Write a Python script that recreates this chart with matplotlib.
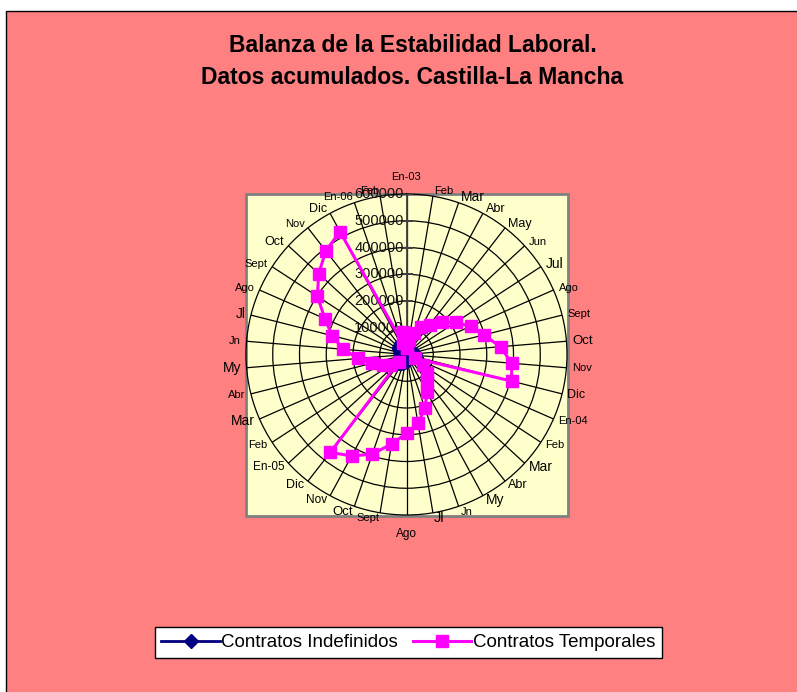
import numpy as np
import matplotlib
matplotlib.use("Agg")
import matplotlib.pyplot as plt
from matplotlib.patches import Rectangle
from matplotlib.lines import Line2D

plt.rcParams['font.family'] = ['Liberation Sans', 'DejaVu Sans']

# categorias (meses) y valores acumulados
meses = ['En-03', 'Feb', 'Mar', 'Abr', 'May', 'Jun', 'Jul', 'Ago', 'Sept', 'Oct', 'Nov', 'Dic',
         'En-04', 'Feb', 'Mar', 'Abr', 'My', 'Jn', 'Jl', 'Ago', 'Sept', 'Oct', 'Nov', 'Dic',
         'En-05', 'Feb', 'Mar', 'Abr', 'My', 'Jn', 'Jl', 'Ago', 'Sept', 'Oct', 'Nov', 'Dic',
         'En-06', 'Feb']
tam_etiq = [8, 8, 10, 9, 9, 8, 10, 8, 8, 9.5, 8, 9,
            8, 8, 10, 9, 10, 8, 10.5, 8.5, 8, 9.5, 8.5, 9,
            8.5, 8, 10, 8, 10, 8, 10, 8, 8, 9, 8, 9,
            8, 8]

indefinidos = [3500, 7000, 10500, 14000, 17500, 21000, 24500, 27000, 30500, 34000, 37000, 39500,
               3800, 7500, 11500, 15000, 19000, 23000, 26500, 29500, 33500, 37500, 41000, 43500,
               4200, 8300, 12500, 16500, 20500, 25000, 29000, 32000, 36500, 41000, 45000, 48000,
               4500, 9000]
temporales = [25000, 55000, 85000, 115000, 140000, 180000, 219000, 262000, 297000, 353000, 394000, 406000,
              35000, 75000, 104000, 125000, 160000, 213000, 260000, 295000, 339000, 394000, 431000, 464000,
              40000, 75000, 97000, 134000, 181000, 237000, 287000, 333000, 398000, 446000, 491000, 522000,
              45000, 85000]
radiales = [0, 100000, 200000, 300000, 400000, 500000, 600000]

W, H = 797, 692
fig = plt.figure(figsize=(W / 100, H / 100), dpi=100)
fig.patch.set_facecolor('white')

# fondo salmon con borde
fig.add_artist(Rectangle((6 / W, -0.01), 1.0, (H - 10.5) / H + 0.01, transform=fig.transFigure,
                         facecolor='#FF8080', edgecolor='black', lw=1, zorder=-10))
# area de trazado amarilla
fig.add_artist(Rectangle((246 / W, 1 - 516 / H), 322 / W, 322 / H, transform=fig.transFigure,
                         facecolor='#FFFFCC', edgecolor='#808080', lw=2, zorder=-9))

fig.text(412.5 / W, 1 - 46 / H, 'Balanza de la Estabilidad Laboral.', ha='center', va='center',
         fontsize=16.5, fontweight='bold')
fig.text(412.5 / W, 1 - 77 / H, 'Datos acumulados. Castilla-La Mancha', ha='center', va='center',
         fontsize=16.5, fontweight='bold')

cx, cy, R = 406.5, 354.5, 160.5
ax = fig.add_axes([(cx - R) / W, 1 - (cy + R) / H, 2 * R / W, 2 * R / H], projection='polar')
ax.patch.set_alpha(0)
ax.set_theta_zero_location('N')
ax.set_theta_direction(-1)
ax.set_ylim(0, 600000)

n = len(meses)
th = np.arange(n) * 2 * np.pi / n
ax.set_xticks(th)
ax.set_xticklabels([])
ax.set_yticks(radiales[1:-1])
ax.set_yticklabels([])
ax.grid(True, color='black', lw=0.9)
ax.spines['polar'].set_color('black')
ax.spines['polar'].set_linewidth(0.9)
ax.tick_params(length=0)

# eje vertical con marcas
ax.plot([0, 0], [0, 600000], color='#404040', lw=1.3, zorder=3)
ax.plot([0] * len(radiales), radiales, ls='none', marker='_', ms=9, mew=1.3, color='#404040', zorder=3)
for r in radiales:
    ax.annotate(str(r), xy=(0, r), xytext=(-2, 0), textcoords='offset points',
                ha='right', va='center', fontsize=10.5, color='#111111', zorder=4)

# etiquetas de categoria
for i, (lbl, t) in enumerate(zip(meses, th)):
    s = np.sin(t)
    c = np.cos(t)
    if abs(s) < 1e-6:
        rr = 173 / R * 600000
        ax.text(t, rr, lbl, ha='center', va='bottom' if c > 0 else 'top', fontsize=tam_etiq[i])
    else:
        rr = 166 / R * 600000
        ax.text(t, rr, lbl, ha='left' if s > 0 else 'right', va='center', fontsize=tam_etiq[i])

thc = np.append(th, th[0])
ind = np.append(indefinidos, indefinidos[0])
tem = np.append(temporales, temporales[0])
ax.plot(thc, ind, color='#000080', lw=2, marker='D', ms=6, zorder=5, clip_on=False)
ax.plot(thc, tem, color='#FF00FF', lw=2.2, marker='s', ms=8.6, zorder=6, clip_on=False)

handles = [Line2D([], [], color='#000080', lw=2, marker='D', ms=7),
           Line2D([], [], color='#FF00FF', lw=2.2, marker='s', ms=9)]
leg = fig.legend(handles, ['Contratos Indefinidos', 'Contratos Temporales'], ncol=2,
                 loc='center', bbox_to_anchor=(408.5 / W, 1 - 642.5 / H), fontsize=13.5,
                 frameon=True, fancybox=False, edgecolor='black', framealpha=1, handlelength=3.1,
                 handletextpad=0.1, columnspacing=0.8, borderpad=0.35, borderaxespad=0)
leg.get_frame().set_linewidth(1)
leg.get_frame().set_facecolor('white')

fig.savefig('out.png', dpi=100, facecolor=fig.get_facecolor())
